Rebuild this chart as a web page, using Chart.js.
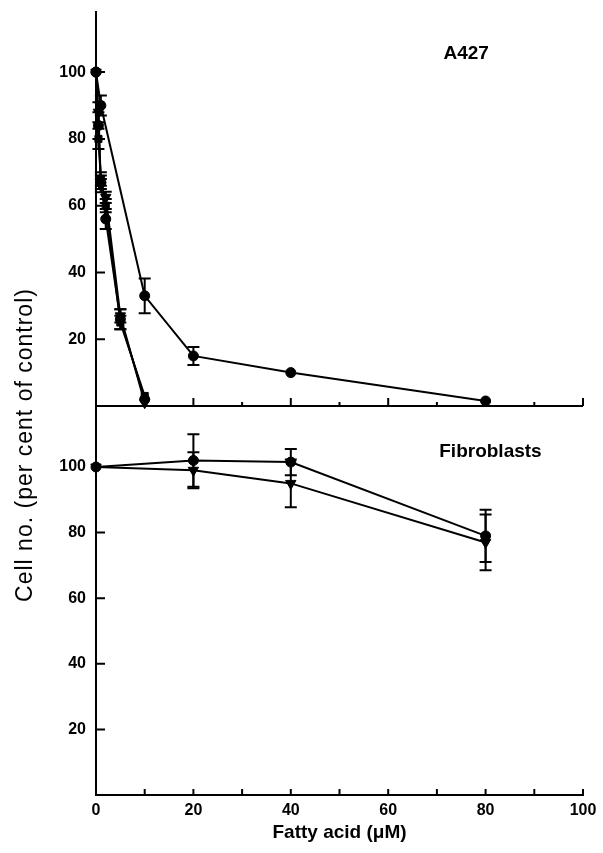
<!DOCTYPE html>
<html><head><meta charset="utf-8">
<script src="https://cdn.jsdelivr.net/npm/chart.js@4/dist/chart.umd.min.js"></script>
<style>html,body{margin:0;padding:0;background:#fff}#wrap{width:603px;height:853px}</style>
</head><body><div id="wrap"><canvas id="c" width="603" height="853"></canvas></div>
<script>
// ---- data ----
const xTickValues = [0, 20, 40, 60, 80, 100];
const yTickValues = [20, 40, 60, 80, 100];

// A427 panel
const a427SlowX   = [0, 1, 10, 20, 40, 80];
const a427SlowY   = [100, 90, 33, 15, 10, 1.5];
const a427SlowErr = [0, 3, 5.2, 2.7, 0, 0];

const a427CircX   = [0, 0.5, 1, 2, 5, 10];
const a427CircY   = [100, 84, 67, 56, 26, 2];
const a427CircErr = [0, 4, 2, 3, 3, 0];

const a427TriX    = [0, 0.5, 1, 2, 5, 10];
const a427TriY    = [100, 88, 66, 62.5, 27, 1];
const a427TriErr  = [0, 3, 2, 1.7, 2, 0];

const a427SqX     = [0, 0.5, 1, 2, 5, 10];
const a427SqY     = [100, 80, 68, 60, 25, 3];
const a427SqErr   = [0, 3, 2, 2, 2, 0];

// Fibroblast panel
const fibCircX    = [0, 20, 40, 80];
const fibCircY    = [100, 102, 101.5, 79];
const fibCircErr  = [0, 8, 4, 8];

const fibTriX     = [0, 20, 40, 80];
const fibTriY     = [100, 99, 95, 77];
const fibTriErr   = [0, 5.5, 7.3, 8.5];

const panelLabels = ['A427', 'Fibroblasts'];
const xTitle = 'Fatty acid (\u03bcM)';
const yTitle = 'Cell no. (per cent of control)';

const pts = (xs, ys) => xs.map((x, i) => ({x: x, y: ys[i]}));
const FAM = '"Liberation Sans", Arial, sans-serif';

function ds(xs, ys, err, axis, style, radius) {
  return {
    data: pts(xs, ys), err: err, yAxisID: axis,
    borderColor: '#000', backgroundColor: '#000', borderWidth: 2,
    pointStyle: style, pointRadius: radius, pointHoverRadius: radius,
    pointRotation: style === 'triangle' ? 180 : 0,
    pointBorderWidth: 1, showLine: true, tension: 0, clip: false
  };
}

const errorBars = {
  id: 'errorBars',
  afterDatasetsDraw(chart) {
    const ctx = chart.ctx, xs = chart.scales.x;
    ctx.save(); ctx.strokeStyle = '#000'; ctx.lineWidth = 2;
    chart.data.datasets.forEach(d => {
      const ys = chart.scales[d.yAxisID];
      d.data.forEach((p, i) => {
        const e = d.err[i]; if (!e) return;
        const px = xs.getPixelForValue(p.x);
        const y1 = ys.getPixelForValue(p.y + e), y2 = ys.getPixelForValue(p.y - e);
        ctx.beginPath();
        ctx.moveTo(px, y1); ctx.lineTo(px, y2);
        ctx.moveTo(px - 6, y1); ctx.lineTo(px + 6, y1);
        ctx.moveTo(px - 6, y2); ctx.lineTo(px + 6, y2);
        ctx.stroke();
      });
    });
    ctx.restore();
  }
};

const frame = {
  id: 'frame',
  afterDraw(chart) {
    const ctx = chart.ctx, x = chart.scales.x, yt = chart.scales.yTop, yb = chart.scales.yBot;
    ctx.save(); ctx.strokeStyle = '#000'; ctx.lineWidth = 2;
    const x0 = x.getPixelForValue(0), x1 = x.getPixelForValue(100);
    const div = yt.getPixelForValue(0), bot = yb.getPixelForValue(0);
    ctx.beginPath(); ctx.moveTo(x0, div); ctx.lineTo(x1, div); ctx.stroke();
    ctx.beginPath();
    for (let v = 10; v <= 100; v += 10) {
      const px = x.getPixelForValue(v);
      const len = (v % 20 === 0) ? 8 : 4;
      ctx.moveTo(px, div); ctx.lineTo(px, div - len);
    }
    for (let v = 10; v <= 100; v += 10) {
      const px = x.getPixelForValue(v);
      ctx.moveTo(px, bot); ctx.lineTo(px, bot - 6);
    }
    yTickValues.forEach(v => {
      let py = yt.getPixelForValue(v); ctx.moveTo(x0, py); ctx.lineTo(x0 + 9, py);
      py = yb.getPixelForValue(v); ctx.moveTo(x0, py); ctx.lineTo(x0 + 9, py);
    });
    ctx.stroke();
    // texts
    ctx.fillStyle = '#000';
    ctx.font = 'bold 19px ' + FAM;
    ctx.textAlign = 'center'; ctx.textBaseline = 'middle';
    ctx.fillText(panelLabels[0], x.getPixelForValue(76), yt.getPixelForValue(105.5));
    ctx.fillText(panelLabels[1], x.getPixelForValue(81), yb.getPixelForValue(104.5));
    ctx.translate(26, 445); ctx.rotate(-Math.PI / 2);
    ctx.font = '23px ' + FAM;
    try { ctx.letterSpacing = '1px'; } catch (e) {}
    ctx.fillText(yTitle, 0, 0);
    ctx.restore();
  }
};

const yTickCb = v => (yTickValues.includes(v) ? String(v) : '');
const tickFont = {family: FAM, size: 16, weight: 'bold'};
const fitY = s => { s.width = 96; s.paddingTop = 0; s.paddingBottom = 0; };

new Chart(document.getElementById('c'), {
  type: 'line',
  data: {
    datasets: [
      ds(a427SlowX, a427SlowY, a427SlowErr, 'yTop', 'circle', 5),
      ds(a427SqX, a427SqY, a427SqErr, 'yTop', 'rect', 5),
      ds(a427TriX, a427TriY, a427TriErr, 'yTop', 'triangle', 6),
      ds(a427CircX, a427CircY, a427CircErr, 'yTop', 'circle', 5),
      ds(fibTriX, fibTriY, fibTriErr, 'yBot', 'triangle', 6),
      ds(fibCircX, fibCircY, fibCircErr, 'yBot', 'circle', 5)
    ]
  },
  options: {
    responsive: false, animation: false, devicePixelRatio: 1,
    layout: {padding: {left: 0, right: 20, top: 12, bottom: 0}},
    plugins: {legend: {display: false}, tooltip: {enabled: false}},
    scales: {
      x: {
        type: 'linear', min: 0, max: 100,
        afterBuildTicks: s => { s.ticks = xTickValues.map(v => ({value: v})); },
        grid: {display: false, drawTicks: false},
        border: {display: true, color: '#000', width: 2},
        ticks: {color: '#000', font: tickFont, padding: 6, maxRotation: 0},
        title: {display: true, text: xTitle, color: '#000', font: {family: FAM, size: 19, weight: 'bold'}, padding: {top: 2, bottom: 9}},
        afterFit: s => { s.height = 58; }
      },
      yBot: {
        type: 'linear', position: 'left', stack: 'panels', stackWeight: 389, min: 0, max: 118.6,
        afterBuildTicks: s => { s.ticks = yTickValues.map(v => ({value: v})); },
        grid: {display: false, drawTicks: false},
        border: {display: true, color: '#000', width: 2},
        ticks: {color: '#000', font: tickFont, padding: 10, callback: yTickCb},
        afterFit: fitY
      },
      yTop: {
        type: 'linear', position: 'left', stack: 'panels', stackWeight: 394, min: 0, max: 118,
        afterBuildTicks: s => { s.ticks = yTickValues.map(v => ({value: v})); },
        grid: {display: false, drawTicks: false},
        border: {display: true, color: '#000', width: 2},
        ticks: {color: '#000', font: tickFont, padding: 10, callback: yTickCb},
        afterFit: fitY
      }
    }
  },
  plugins: [errorBars, frame]
});
</script>
</body></html>
